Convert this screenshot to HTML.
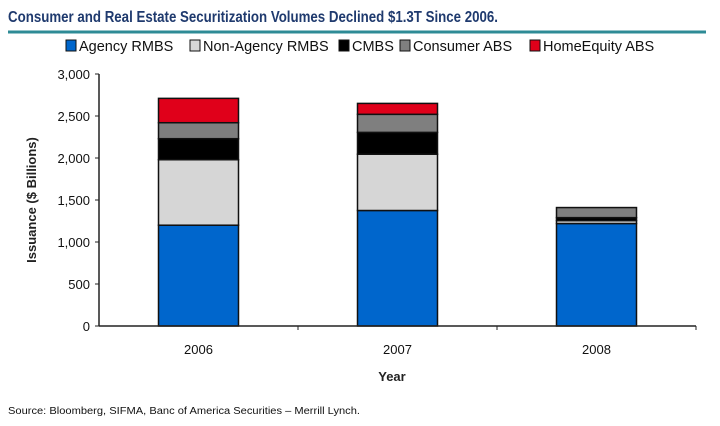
<!DOCTYPE html>
<html><head><meta charset="utf-8"><style>
body{margin:0;background:#fff;}
svg{display:block;font-family:"Liberation Sans",sans-serif;}
</style></head><body>
<svg id="c" width="720" height="426" viewBox="0 0 720 426">
<text x="8" y="22" font-size="16" font-weight="bold" fill="#1f3a6e" textLength="490" lengthAdjust="spacingAndGlyphs">Consumer and Real Estate Securitization Volumes Declined $1.3T Since 2006.</text>
<line x1="8" y1="32" x2="706" y2="32" stroke="#2e8b96" stroke-width="3"/>
<g id="legend"></g>
<g id="plot"></g>
<text x="392" y="381" font-size="13" font-weight="bold" text-anchor="middle" fill="#222">Year</text>
<text transform="translate(36,200) rotate(-90)" font-size="13" font-weight="bold" text-anchor="middle" fill="#222">Issuance ($ Billions)</text>
<text x="8" y="414" font-size="10" fill="#111" textLength="352" lengthAdjust="spacingAndGlyphs">Source: Bloomberg, SIFMA, Banc of America Securities – Merrill Lynch.</text>
</svg>
<script>
const categories=["2006","2007","2008"];
const seriesNames=["Agency RMBS","Non-Agency RMBS","CMBS","Consumer ABS","HomeEquity ABS"];
const agency=[1200,1375,1220];
const nonAgency=[780,670,35];
const cmbs=[250,260,35];
const consumer=[190,215,120];
const homeEquity=[290,130,0];
const yTicks=[0,500,1000,1500,2000,2500,3000];
const yTickLabels=["0","500","1,000","1,500","2,000","2,500","3,000"];
const series=[agency,nonAgency,cmbs,consumer,homeEquity];
const colors=["#0066cc","#d6d6d6","#000000","#7f7f7f","#e0001a"];
const NS="http://www.w3.org/2000/svg";
const plot=document.getElementById('plot');
const legend=document.getElementById('legend');
const x0=99,x1=696,yBase=326,yTop=74,yMax=3000;
const y=v=>yBase-(v/yMax)*(yBase-yTop);
const band=(x1-x0)/categories.length;
const xc=i=>x0+band*(i+0.5);
const bw=80;
function mk(t,a,p){const e=document.createElementNS(NS,t);for(const k in a)e.setAttribute(k,a[k]);(p||plot).appendChild(e);return e;}
categories.forEach((c,i)=>{
  let cum=0;
  series.forEach((s,j)=>{
    const v=s[i];if(v<=0){return;}
    const r=mk('rect',{x:xc(i)-bw/2,y:y(cum+v),width:bw,height:y(cum)-y(cum+v),fill:colors[j],stroke:'#111','stroke-width':1.5});
    
    
    cum+=v;
  });
  const t=mk('text',{x:xc(i),y:yBase+28,'font-size':13,'text-anchor':'middle',fill:'#111'});
  t.textContent=c;
  
  
  const tk=mk('line',{x1:x0+band*(i+1),x2:x0+band*(i+1),y1:yBase,y2:yBase+4,stroke:'#222','stroke-width':1});
  
  
});
yTicks.forEach((v,k)=>{
  const l=mk('line',{x1:x0-4,x2:x0,y1:y(v),y2:y(v),stroke:'#222','stroke-width':1});
  
  
  const t=mk('text',{x:x0-9,y:y(v)+5,'font-size':13,'text-anchor':'end',fill:'#111'});
  t.textContent=yTickLabels[k];
  
  
});
const ax=mk('line',{x1:x0,x2:x0,y1:yTop,y2:yBase,stroke:'#222','stroke-width':1.5});


const axx=mk('line',{x1:x0,x2:x1,y1:yBase,y2:yBase,stroke:'#222','stroke-width':1.5});


const lx=[66,190,339,400,530];
seriesNames.forEach((n,j)=>{
  const g=mk('g',{},legend);
  
  
  mk('rect',{x:lx[j],y:40,width:10,height:11,fill:colors[j],stroke:'#111','stroke-width':1},g);
  const t=mk('text',{x:lx[j]+13,y:51,'font-size':14.5,fill:'#111'},g);
  t.textContent=n;
});
</script>
</body></html>
